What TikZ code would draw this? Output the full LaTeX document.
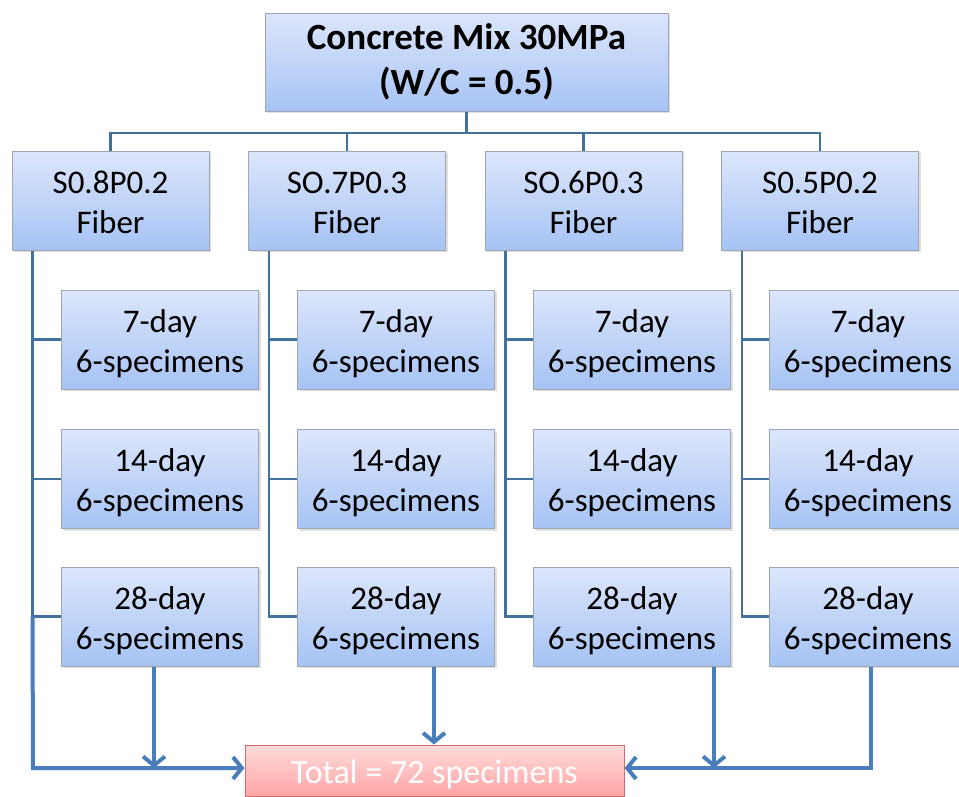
\documentclass[tikz,border=0pt]{standalone}
\usepackage{fontspec}
\setmainfont{Carlito}
\usetikzlibrary{arrows.meta,shadows,calc}
\definecolor{boxtop}{HTML}{DCE6FB}
\definecolor{boxbot}{HTML}{A6C3F4}
\definecolor{boxline}{HTML}{9EA6B4}
\definecolor{redtop}{HTML}{FFDCDC}
\definecolor{redbot}{HTML}{FFA4A4}
\definecolor{redline}{HTML}{D66A6A}
\definecolor{connc}{HTML}{41719C}
\definecolor{arrc}{HTML}{4A7EBB}
\tikzset{
  bluebox/.style={draw=boxline, line width=1pt, top color=boxtop, bottom color=boxbot,
    minimum width=197pt, minimum height=99pt, align=center, inner sep=0pt,
    font=\fontsize{33}{40}\selectfont,
    drop shadow={shadow xshift=2pt, shadow yshift=-2pt, opacity=0.25}},
  daybox/.style={bluebox, text height=71pt},
  fiberbox/.style={bluebox, text height=67pt},
  topbox/.style={bluebox, minimum width=403pt, minimum height=98pt, font=\bfseries\fontsize{37}{45}\selectfont},
  totalbox/.style={draw=redline, line width=1pt, top color=redtop, bottom color=redbot,
    minimum width=379pt, minimum height=51pt, inner sep=0pt, text=white,
    text height=32pt, font=\fontsize{34}{40}\selectfont},
  conn/.style={draw=connc, line width=2.5pt},
  arr/.style={draw=arrc, line width=4pt, -{Straight Barb[length=9pt,width=22pt]}}
}
\begin{document}
\begin{tikzpicture}[x=1pt,y=-1pt]
\useasboundingbox (0,0) rectangle (959,796);
% top
\node[topbox] (top) at (466.5,62) {Concrete Mix 30MPa\\(W/C = 0.5)};
% fiber boxes
\node[fiberbox] (f1) at (110.5,200.5) {S0.8P0.2\\Fiber};
\node[fiberbox] (f2) at (347,200.5) {SO.7P0.3\\Fiber};
\node[fiberbox] (f3) at (583.5,200.5) {SO.6P0.3\\Fiber};
\node[fiberbox] (f4) at (820,200.5) {S0.5P0.2\\Fiber};
% day boxes
\foreach \c/\x in {1/160,2/396,3/632,4/868}{
  \node[daybox] (d\c1) at (\x,339.5) {7-day\\6-specimens};
  \node[daybox] (d\c2) at (\x,479) {14-day\\6-specimens};
  \node[daybox] (d\c3) at (\x,616.5) {28-day\\6-specimens};
}
% total
\node[totalbox] (total) at (434.5,770.5) {Total = 72 specimens};
% bus
\coordinate (bus) at (466.5,133);
\draw[conn] (top.south) -- (bus);
\draw[conn] (f1.north) |- (bus) -| (f4.north);
\draw[conn] (f2.north) -- (f2.north |- bus);
\draw[conn] (f3.north) -- (f3.north |- bus);
% spines
\foreach \c in {1,2,3,4}{
  \coordinate (sp\c) at ([xshift=21pt]f\c.south west);
  \draw[conn] (d\c1.west) -- (d\c1.west -| sp\c);
  \draw[conn] (d\c2.west) -- (d\c2.west -| sp\c);
}
\foreach \c in {2,3,4}{
  \draw[conn] (sp\c) |- (d\c3.west);
}
\draw[conn] (sp1) -- (sp1 |- d13.west);
\draw[conn] (d13.west) -- (d13.west -| sp1);
% arrows to total
\coordinate (lowL) at (33,768);
\coordinate (lowR) at (871,768);
\draw[arr] (sp1 |- d13.west) -- (lowL) -- (total.west |- lowL);
\draw[arr] ([xshift=-6pt]d13.south) -- ([xshift=-6pt]d13.south |- lowL);
\draw[arr] ([xshift=38pt]d23.south) -- ([xshift=38pt]d23.south |- total.north);
\draw[arr] ([xshift=82pt]d33.south) -- ([xshift=82pt]d33.south |- lowR);
\draw[arr] ([xshift=3pt]d43.south) -- (lowR) -- (total.east |- lowR);
\end{tikzpicture}
\end{document}
